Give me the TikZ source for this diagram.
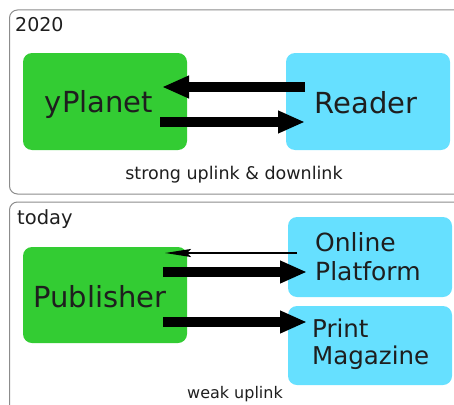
\documentclass[tikz,border=0pt]{standalone}
\usepackage{fontspec}
\setmainfont{DejaVu Sans}
\usetikzlibrary{arrows.meta}
\definecolor{boxgreen}{RGB}{51,204,51}
\definecolor{boxblue}{RGB}{102,224,255}
\definecolor{framegray}{RGB}{140,140,140}
\definecolor{txt}{RGB}{30,30,30}
\tikzset{
  frame/.style={draw=framegray, line width=1pt, rounded corners=8pt},
  gbox/.style={fill=boxgreen, rounded corners=9pt, inner sep=0pt, text=txt},
  bbox/.style={fill=boxblue, rounded corners=9pt, inner sep=0pt, text=txt},
  bigarrow/.style={line width=10pt, -{Triangle[length=27pt,width=21pt]}, black},
  thinarrow/.style={line width=2pt, -{Stealth[length=26pt,width=8pt,inset=4pt]}, black},
  lbl/.style={text=txt, inner sep=0pt}
}
\begin{document}
\begin{tikzpicture}[x=1pt,y=-1pt]
\useasboundingbox (0,0) rectangle (454,404);
% frames
\draw[frame] (9.5,10) rectangle (470,194);
\draw[frame] (9.5,202) rectangle (470,420);
\node[lbl, anchor=west, font=\fontsize{19}{22}\selectfont] (y2020) at (15,25) {2020};
\node[lbl, anchor=west, font=\fontsize{19.5}{22}\selectfont] (ytoday) at (17,219) {today};
% top boxes
\path[gbox] (23,53) rectangle (187,150);
\node[lbl, anchor=base, font=\fontsize{29}{32}\selectfont] (yplanet) at (99,112) {yPlanet};
\path[bbox] (286,53) rectangle (450,150);
\node[lbl, anchor=base, font=\fontsize{29}{32}\selectfont] (reader) at (366,113) {Reader};
\coordinate (r1) at (305,87);
\coordinate (y1) at (162,87);
\coordinate (y2) at (160,122);
\coordinate (r2) at (305,122);
\draw[bigarrow] (r1) -- (y1);
\draw[bigarrow] (y2) -- (r2);
\node[lbl, font=\fontsize{17.5}{20}\selectfont] (strong) at (234,175) {strong uplink \& downlink};
% bottom boxes
\path[gbox] (23,247) rectangle (187,343);
\node[lbl, font=\fontsize{29}{32}\selectfont] (publisher) at (100,297) {Publisher};
\path[bbox] (288,217) rectangle (452,297);
\node[lbl, align=left, anchor=west, font=\fontsize{25}{29}\selectfont] (online) at (315,257) {Online\\Platform};
\path[bbox] (288,306) rectangle (452,385);
\node[lbl, align=left, anchor=west, font=\fontsize{24.5}{27}\selectfont] (print) at (312,344) {Print\\Magazine};
\coordinate (o1) at (297,253);
\coordinate (p1) at (165,253);
\coordinate (p2) at (163,272);
\coordinate (o2) at (307,272);
\coordinate (p3) at (163,322);
\coordinate (m1) at (307,322);
\draw[thinarrow] (o1) -- (p1);
\draw[bigarrow] (p2) -- (o2);
\draw[bigarrow] (p3) -- (m1);
\node[lbl, font=\fontsize{16}{19}\selectfont] (weak) at (235,394) {weak uplink};
\end{tikzpicture}
\end{document}
